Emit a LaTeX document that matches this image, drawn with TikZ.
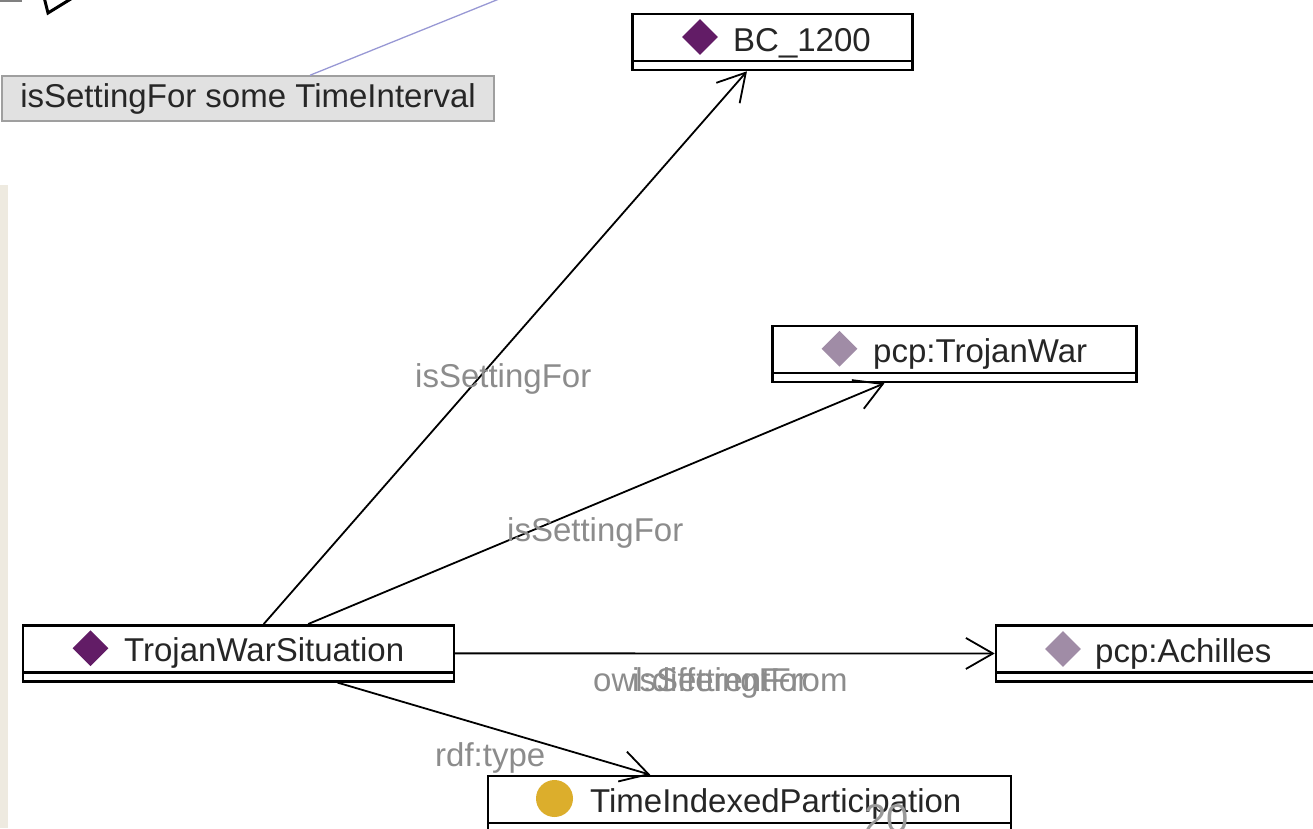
\documentclass[tikz,border=0pt]{standalone}
\usepackage{fontspec}
\setmainfont{Liberation Sans}
\usetikzlibrary{arrows.meta,shapes.geometric}

\definecolor{indivdark}{HTML}{621C66}
\definecolor{indivlight}{HTML}{A08CA6}
\definecolor{classgold}{HTML}{DCAE2C}
\definecolor{notegray}{HTML}{E1E1E1}
\definecolor{linkblue}{HTML}{9898D4}
\definecolor{paper}{HTML}{EEEAE0}

\tikzset{
    box/.style={draw, line width=2.6pt, fill=white, minimum height=56pt, inner sep=0pt,
        path picture={\draw[line width=2.6pt] ([yshift=9pt]path picture bounding box.south west) -- ([yshift=9pt]path picture bounding box.south east);}},
    gem/.style={diamond, inner sep=0pt, minimum size=36pt},
    classdot/.style={circle, inner sep=0pt, minimum size=37pt},
    indtext/.style={anchor=base west, inner sep=0pt, text=black!85, font=\fontsize{33}{36}\selectfont},
    linktext/.style={anchor=base west, inner sep=0pt, text=black!45, font=\fontsize{33}{36}\selectfont},
    link/.style={line width=1.8pt, -{Straight Barb[length=27pt, width=31pt, line width=1.8pt]}}
}

\begin{document}
\begin{tikzpicture}[x=1pt, y=-1pt]

    \useasboundingbox (0,0) rectangle (1313,828);
    \clip (0,0) rectangle (1313,828);

    % Paper edge on the left
    \fill[paper] (0,185) rectangle (8,828);

    % Cut-off arrow head at the top
    \draw[gray, line width=1.5pt] (0,1) -- (22,1);
    \draw[line width=3pt, line join=miter] (44,-3) -- (48,13) -- (74,-3);

    % Annotation
    \node[draw=gray!75, line width=1.5pt, fill=notegray, minimum width=492pt, minimum height=45pt, inner sep=0pt,
        text=black!85, font=\fontsize{33}{36}\selectfont] (note) at (248,98.5) {isSettingFor some TimeInterval};
    \coordinate (offtop) at (504,-3);
    \draw[linkblue, line width=1.3pt] ([xshift=62pt]note.north) -- (offtop);

    % Individuals and class
    \node[box, minimum width=280pt] (bc) at (772.5,42) {};
    \node[box, minimum width=364pt] (war) at (954.2,354) {};
    \node[box, minimum width=431pt] (tws) at (238.3,653.3) {};
    \node[box, minimum width=340pt] (achilles) at (1166,653.5) {};
    \node[box, minimum width=523pt] (tip) at (749.4,804) {};

    \node[gem, fill=indivdark] (bc gem) at (700,37) {};
    \node[indtext] (bc text) at (733,51) {BC\_1200};

    \node[gem, fill=indivlight] (war gem) at (839.5,348.7) {};
    \node[indtext] (war text) at (873,362) {pcp:TrojanWar};

    \node[gem, fill=indivdark] (tws gem) at (90.5,648.3) {};
    \node[indtext] (tws text) at (124,661.7) {TrojanWarSituation};

    \node[gem, fill=indivlight] (achilles gem) at (1063,649) {};
    \node[indtext] (achilles text) at (1095,662) {pcp:Achilles};

    \node[classdot, fill=classgold] (tip dot) at (554.5,798.5) {};
    \node[indtext] (tip text) at (590,812.4) {TimeIndexedParticipation};

    % Property links
    \draw[link] (tws) -- (bc);
    \draw[link] (tws) -- (war);
    \draw[link] (tws) -- (achilles);
    \draw[link] (tws) -- (tip);

    % Link labels
    \node[linktext] (bc label) at (415,387) {isSettingFor};
    \node[linktext] (war label) at (507,541.7) {isSettingFor};
    \node[linktext] (achilles label) at (593,691.7) {owl:differentFrom};
    \node[linktext] (achilles label2) at (632,691.7) {isSettingFor};
    \node[linktext] (tip label) at (435,766) {rdf:type};

    % Slide number
    \node[anchor=base west, inner sep=0pt, text=black!40, font=\fontsize{40}{44}\selectfont] (page) at (864,832) {20};

\end{tikzpicture}
\end{document}
